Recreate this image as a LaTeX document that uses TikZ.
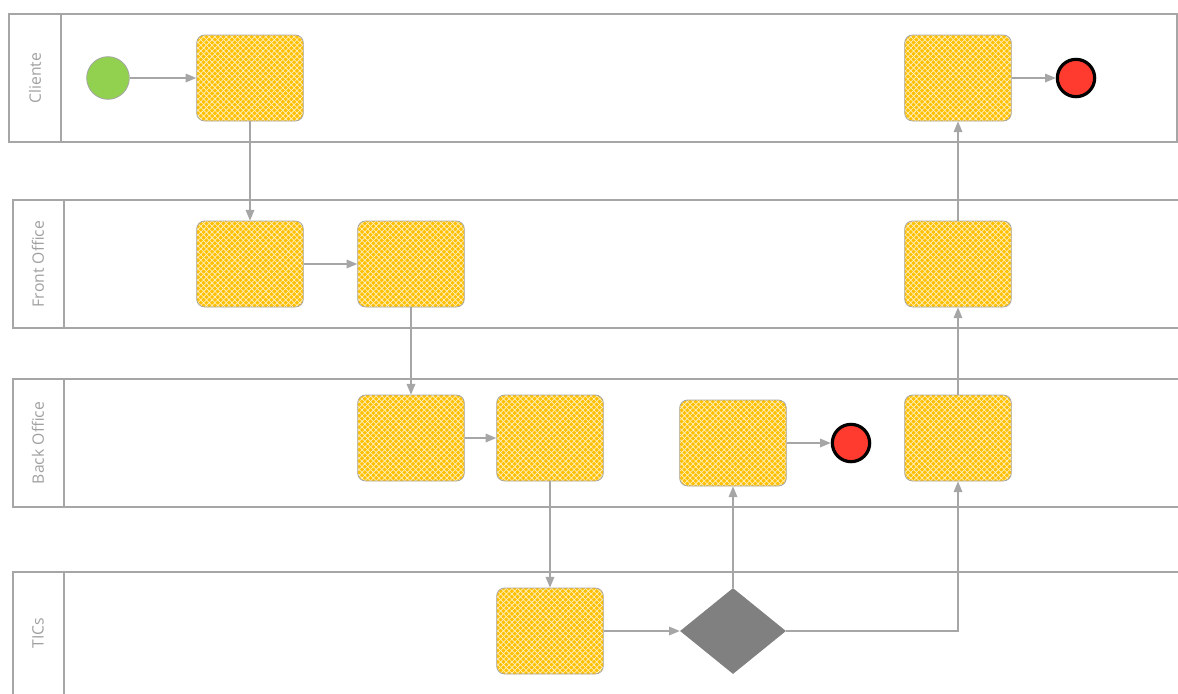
\documentclass[tikz,border=0pt]{standalone}
\usepackage{fontspec}
\setmainfont{Open Sans}
\usetikzlibrary{arrows.meta, shapes, calc, positioning, patterns, patterns.meta}
\usepackage{xcolor}

\definecolor{laneline}{RGB}{166,166,166}
\definecolor{lanetext}{RGB}{160,160,160}
\definecolor{taskfill}{RGB}{255,192,0}
\definecolor{startgreen}{RGB}{146,208,80}
\definecolor{endred}{RGB}{255,59,47}
\definecolor{gategray}{RGB}{128,128,128}

\tikzset{
  lane/.style={draw=laneline, line width=0.9pt},
  lanelabel/.style={rotate=90, text=lanetext, font=\fontsize{11.8}{14}\selectfont},
  task/.style={draw=laneline, line width=0.6pt, rounded corners=6pt,
               preaction={fill=taskfill},
               preaction={pattern={Lines[angle=45, distance=3pt, line width=0.55pt]},
                          pattern color=white!75!taskfill},
               pattern={Lines[angle=-45, distance=3pt, line width=0.55pt]},
               pattern color=white!75!taskfill,
               minimum width=80pt, minimum height=64.5pt, inner sep=0pt},
  startev/.style={circle, draw=laneline, line width=0.6pt, fill=startgreen,
                  minimum size=32pt, inner sep=0pt},
  endev/.style={circle, draw=black, line width=2.4pt, fill=endred,
                minimum size=28pt, inner sep=0pt},
  gate/.style={diamond, fill=gategray, aspect=1.23, minimum width=79.5pt,
               minimum height=64.5pt, inner sep=0pt},
  flow/.style={draw=laneline, line width=0.9pt, -{Triangle[length=8pt, width=6.5pt]}}
}

\begin{document}
\begin{tikzpicture}[x=0.75pt, y=-0.75pt]
  \clip (0,0) rectangle (1178,693);

  % swimlanes
  \draw[lane] (9,14) rectangle (1177,142);
  \draw[lane] (61,14) -- (61,142);
  \node[lanelabel] (lcli) at (35,78) {Cliente};

  \draw[lane] (13,200) rectangle (1200,328);
  \draw[lane] (64,200) -- (64,328);
  \node[lanelabel] (lfront) at (38,264) {Front Office};

  \draw[lane] (13,379) rectangle (1200,507);
  \draw[lane] (64,379) -- (64,507);
  \node[lanelabel] (lback) at (38,443) {Back Office};

  \draw[lane] (13,572) rectangle (1200,720);
  \draw[lane] (64,572) -- (64,720);
  \node[lanelabel] (ltic) at (38,633) {TICs};

  % events
  \node[startev] (start) at (108,78) {};
  \node[endev] (endcli) at (1076,78) {};
  \node[endev] (endback) at (851,443) {};

  % tasks
  \node[task] (cli1) at (250,78) {};
  \node[task] (cli2) at (958,78) {};
  \node[task] (front1) at (250,264) {};
  \node[task] (front2) at (411,264) {};
  \node[task] (front3) at (958,264) {};
  \node[task] (back1) at (411,438) {};
  \node[task] (back2) at (550,438) {};
  \node[task] (back3) at (733,443) {};
  \node[task] (back4) at (958,438) {};
  \node[task] (tic1) at (550,631) {};

  % gateway
  \node[gate] (gw) at (733,631) {};

  % sequence flows
  \draw[flow] (start) -- (cli1);
  \draw[flow] (cli1) -- (front1);
  \draw[flow] (front1) -- (front2);
  \draw[flow] (front2) -- (back1);
  \draw[flow] (back1) -- (back2);
  \draw[flow] (back2) -- (tic1);
  \draw[flow] (tic1) -- (gw);
  \draw[flow] (gw) -- (back3);
  \draw[flow] (back3) -- (endback);
  \draw[flow] (gw.east) -| (back4.south);
  \draw[flow] (back4) -- (front3);
  \draw[flow] (front3) -- (cli2);
  \draw[flow] (cli2) -- (endcli);
\end{tikzpicture}
\end{document}
